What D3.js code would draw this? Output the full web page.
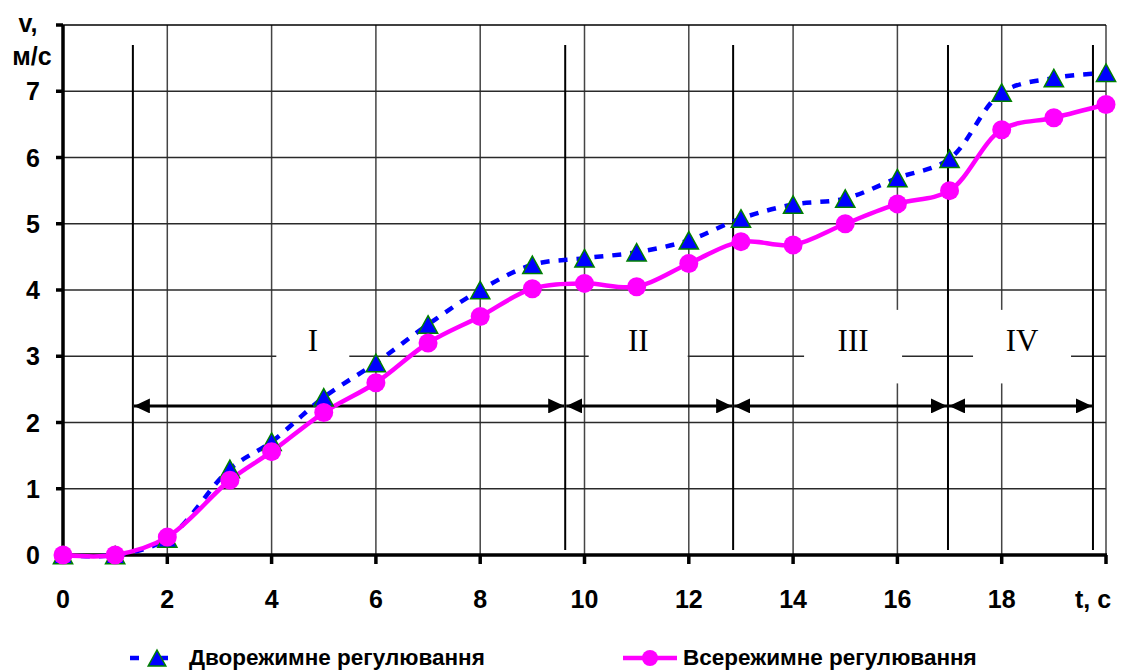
<!DOCTYPE html>
<html><head><meta charset="utf-8">
<script src="https://cdn.jsdelivr.net/npm/d3@7"></script>
<style>body{margin:0;background:#fff} svg{display:block}</style>
</head><body><svg id="c" width="1121" height="671"></svg>
<script>
// ---- data ----
const time = [0,1,2,3.2,4,5,6,7,8,9,10,11,12,13,14,15,16,17,18,19,20];
const dualMode = [0,0,0.25,1.3,1.71,2.38,2.9,3.48,4.0,4.38,4.48,4.57,4.75,5.08,5.29,5.38,5.69,5.98,6.98,7.2,7.28];
const allMode  = [0,0,0.27,1.13,1.56,2.15,2.6,3.2,3.6,4.02,4.1,4.05,4.4,4.73,4.68,5.0,5.3,5.5,6.42,6.6,6.8];
const xTickValues = [0,2,4,6,8,10,12,14,16,18];
const xTickLabels = ["0","2","4","6","8","10","12","14","16","18"];
const yTickValues = [0,1,2,3,4,5,6,7];
const yTickLabels = ["0","1","2","3","4","5","6","7"];
const phaseBounds = [1.34, 9.63, 12.85, 16.97, 19.75];
const phaseLabels = ["I","II","III","IV"];
const phaseLabelT = [4.79, 11.03, 15.15, 18.39];
const seriesNames = ["Дворежимне регулювання","Всережимне регулювання"];

// ---- layout ----
const svg = d3.select("#c");
const L = 63, R = 1106, T = 25, B = 555;
const x = d3.scaleLinear().domain([0,20]).range([L,R]);
const y = d3.scaleLinear().domain([0,8]).range([B,T]);
const font = "'Liberation Sans', Arial, sans-serif";

// gridlines
const g = svg.append("g");
g.selectAll(".vg").data([2,4,6,8,10,12,14,16,18,20]).enter().append("line")
  .attr("x1",d=>x(d)).attr("x2",d=>x(d)).attr("y1",T).attr("y2",B)
  .attr("stroke","#444").attr("stroke-width",1.5);
g.selectAll(".hg").data([1,2,3,4,5,6,7]).enter().append("line")
  .attr("x1",L).attr("x2",R).attr("y1",d=>y(d)).attr("y2",d=>y(d))
  .attr("stroke","#2a2a2a").attr("stroke-width",1.5);
g.append("line").attr("x1",L).attr("x2",R).attr("y1",T).attr("y2",T).attr("stroke","#000").attr("stroke-width",1.5);

// phase label boxes (white, hide grid)
const boxW = [73, 99, 98, 98];
g.selectAll(".pb").data(phaseLabels).enter().append("rect")
  .attr("x",(d,i)=>x(phaseLabelT[i]) - boxW[i]/2).attr("width",(d,i)=>boxW[i])
  .attr("y",y(3.70)).attr("height",y(2.59)-y(3.70)).attr("fill","#fff");
g.selectAll(".pl").data(phaseLabels).enter().append("text")
  .attr("x",(d,i)=>x(phaseLabelT[i])).attr("y",y(3.08))
  .attr("text-anchor","middle").attr("font-family","'Liberation Serif','Times New Roman',serif")
  .attr("font-size",31).attr("fill","#000").text(d=>d);

// phase boundary lines
g.selectAll(".pbl").data(phaseBounds).enter().append("line")
  .attr("x1",d=>x(d)).attr("x2",d=>x(d)).attr("y1",45).attr("y2",550)
  .attr("stroke","#000").attr("stroke-width",2);

// arrows
const defs = svg.append("defs");
defs.append("marker").attr("id","ah").attr("viewBox","0 0 16 15").attr("refX",16).attr("refY",7.5)
  .attr("markerWidth",16).attr("markerHeight",15).attr("markerUnits","userSpaceOnUse").attr("orient","auto-start-reverse")
  .append("path").attr("d","M0,0L16,7.5L0,15Z").attr("fill","#000");
const ya = y(2.25);
for (let i=0;i<phaseBounds.length-1;i++){
  g.append("line").attr("x1",x(phaseBounds[i])+1).attr("x2",x(phaseBounds[i+1])-1)
   .attr("y1",ya).attr("y2",ya).attr("stroke","#000").attr("stroke-width",3)
   .attr("marker-start","url(#ah)").attr("marker-end","url(#ah)");
}

// axes
g.append("line").attr("x1",L).attr("x2",L).attr("y1",T).attr("y2",B+1.5).attr("stroke","#000").attr("stroke-width",3.5);
g.append("line").attr("x1",L-1.5).attr("x2",R+1).attr("y1",B).attr("y2",B).attr("stroke","#000").attr("stroke-width",3.5);
g.selectAll(".yt").data([0,1,2,3,4,5,6,7,8]).enter().append("line")
  .attr("x1",L-7).attr("x2",L).attr("y1",d=>y(d)).attr("y2",d=>y(d)).attr("stroke","#000").attr("stroke-width",3.5);
g.selectAll(".xt").data([0,2,4,6,8,10,12,14,16,18,20]).enter().append("line")
  .attr("x1",d=>x(d)).attr("x2",d=>x(d)).attr("y1",B).attr("y2",B+9).attr("stroke","#000").attr("stroke-width",3.5);

g.selectAll(".ytl").data(yTickValues).enter().append("text")
  .attr("x",40).attr("y",d=>y(d)+9).attr("text-anchor","end")
  .attr("font-family",font).attr("font-weight","bold").attr("font-size",25).text((d,i)=>yTickLabels[i]);
g.selectAll(".xtl").data(xTickValues).enter().append("text")
  .attr("x",d=>x(d)).attr("y",608).attr("text-anchor","middle")
  .attr("font-family",font).attr("font-weight","bold").attr("font-size",25).text((d,i)=>xTickLabels[i]);
g.append("text").attr("x",1093).attr("y",608).attr("text-anchor","middle")
  .attr("font-family",font).attr("font-weight","bold").attr("font-size",25).text("t, c");
g.append("text").attr("x",28).attr("y",32).attr("text-anchor","middle")
  .attr("font-family",font).attr("font-weight","bold").attr("font-size",25).text("v,");
g.append("text").attr("x",32).attr("y",65).attr("text-anchor","middle")
  .attr("font-family",font).attr("font-weight","bold").attr("font-size",25).text("м/с");

// series
const pts1 = time.map((t,i)=>[t,dualMode[i]]);
const pts2 = time.map((t,i)=>[t,allMode[i]]);
const line = d3.line().x(d=>x(d[0])).y(d=>y(d[1])).curve(d3.curveCatmullRom.alpha(0.5));
g.append("path").attr("d",line(pts1)).attr("fill","none").attr("stroke","#0000ff")
  .attr("stroke-width",4.5).attr("stroke-dasharray","9,9");
g.append("path").attr("d",line(pts2)).attr("fill","none").attr("stroke","#ff00ff").attr("stroke-width",4.5);

const tri = (cx,cy,s)=>`M${cx},${cy-s*0.5}L${cx+s*0.55},${cy+s*0.5}L${cx-s*0.55},${cy+s*0.5}Z`;
g.selectAll(".tri").data(pts1).enter().append("path")
  .attr("d",d=>tri(x(d[0]),y(d[1]),17.5)).attr("fill","#0000ff").attr("stroke","#008000").attr("stroke-width",1.5);
g.selectAll(".cir").data(pts2).enter().append("circle")
  .attr("cx",d=>x(d[0])).attr("cy",d=>y(d[1])).attr("r",9.5).attr("fill","#ff00ff");

// legend
const ly = 658;
g.append("line").attr("x1",130).attr("x2",168).attr("y1",ly).attr("y2",ly)
  .attr("stroke","#0000ff").attr("stroke-width",4.5).attr("stroke-dasharray","9,22");
g.append("path").attr("d",tri(157,ly,16)).attr("fill","#0000ff").attr("stroke","#008000").attr("stroke-width",1.5);
g.append("text").attr("x",189).attr("y",ly+7).attr("font-family",font).attr("font-weight","bold")
  .attr("font-size",22.5).text(seriesNames[0]);
g.append("line").attr("x1",623).attr("x2",677).attr("y1",ly).attr("y2",ly)
  .attr("stroke","#ff00ff").attr("stroke-width",4.5);
g.append("circle").attr("cx",650).attr("cy",ly).attr("r",8).attr("fill","#ff00ff");
g.append("text").attr("x",683).attr("y",ly+7).attr("font-family",font).attr("font-weight","bold")
  .attr("font-size",22.5).text(seriesNames[1]);
</script></body></html>
